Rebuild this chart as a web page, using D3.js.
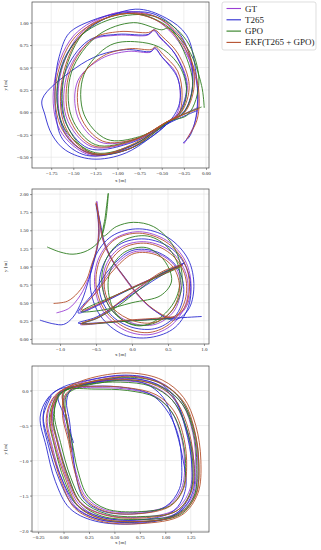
<!DOCTYPE html>
<html>
<head>
<meta charset="utf-8">
<script src="https://cdn.jsdelivr.net/npm/d3@7"></script>
<style>
  body { margin: 0; background: #fff; }
  svg { display: block; }
</style>
</head>
<body>
<div id="chart"></div>
<script>
// legend / series
const seriesNames = ["GT", "T265", "GPO", "EKF(T265 + GPO)"];
const seriesColors = ["#9b3fd4", "#2b2bd0", "#2e7d1f", "#b5502d"];

// ---- panel 1 : ticks
const p1XTicks = [-1.75, -1.5, -1.25, -1.0, -0.75, -0.5, -0.25, 0.0];
const p1YTicks = [-0.5, -0.25, 0.0, 0.25, 0.5, 0.75, 1.0];

// ---- panel 1 : trajectories [x, y]
const p1GT = [[-0.08,0.06],[-0.45,-0.12],
  [-0.85,-0.38],[-1.3,-0.48],[-1.65,-0.2],[-1.72,0.3],[-1.5,0.85],[-1.05,1.1],[-0.6,1.08],[-0.28,0.8],[-0.15,0.35],[-0.25,0.0],[-0.45,-0.12],
  [-0.85,-0.33],[-1.3,-0.38],[-1.58,-0.05],[-1.56,0.45],[-1.3,0.8],[-1.0,0.86],[-0.66,0.86],[-0.59,0.91],[-0.52,0.83],[-0.34,0.64],[-0.21,0.3],[-0.3,0.0],[-0.45,-0.12],
  [-0.8,-0.3],[-1.2,-0.33],[-1.45,-0.05],[-1.45,0.35],[-1.18,0.6],[-0.88,0.68],[-0.63,0.67],[-0.58,0.71],[-0.5,0.62],[-0.34,0.44],[-0.29,0.18],[-0.33,-0.02],[-0.45,-0.12],
  [-0.9,-0.42],[-1.35,-0.45],[-1.62,-0.15],[-1.65,0.4],[-1.4,0.9],[-0.95,1.12],[-0.55,1.02],[-0.25,0.7],[-0.1,0.3],[-0.12,-0.1],[-0.25,-0.35]];
const p1T265 = [[-0.1,0.02],[-0.44,-0.13],
  [-0.9,-0.4],[-1.35,-0.48],[-1.62,-0.3],[-1.7,0.0],[-1.7,0.38],[-1.66,0.62],[-1.55,0.88],[-1.3,1.02],[-0.99,1.1],[-0.6,1.1],[-0.3,0.88],[-0.15,0.45],[-0.22,0.05],[-0.44,-0.13],
  [-0.88,-0.35],[-1.33,-0.4],[-1.6,-0.08],[-1.6,0.42],[-1.33,0.8],[-1.0,0.87],[-0.65,0.87],[-0.59,0.92],[-0.52,0.84],[-0.35,0.65],[-0.22,0.3],[-0.3,0.0],[-0.44,-0.13],
  [-0.9,-0.45],[-1.29,-0.52],[-1.59,-0.42],[-1.74,-0.25],[-1.82,-0.03],[-1.85,0.15],[-1.48,0.49],[-1.2,0.64],[-0.9,0.7],[-0.62,0.68],[-0.58,0.72],[-0.5,0.62],[-0.32,0.38],[-0.3,0.1],[-0.44,-0.13],
  [-0.85,-0.4],[-1.25,-0.47],[-1.55,-0.3],[-1.68,0.1],[-1.6,0.6],[-1.3,0.95],[-0.8,1.15],[-0.45,1.05],[-0.22,0.86],[-0.12,0.49],[-0.1,0.04],[-0.18,-0.26],[-0.26,-0.34]];
const p1GPO = [[-0.05,0.06],[-0.42,-0.1],
  [-0.8,-0.35],[-1.25,-0.45],[-1.6,-0.18],[-1.68,0.3],[-1.45,0.82],[-1.0,1.06],[-0.55,1.06],[-0.22,0.8],[-0.08,0.35],[-0.2,-0.02],[-0.42,-0.1],
  [-0.8,-0.3],[-1.25,-0.36],[-1.52,-0.05],[-1.52,0.45],[-1.22,0.86],[-0.82,1.0],[-0.5,0.92],[-0.42,0.94],[-0.25,0.68],[-0.15,0.3],[-0.25,0.0],[-0.42,-0.1],
  [-0.75,-0.27],[-1.12,-0.3],[-1.38,-0.02],[-1.38,0.42],[-1.08,0.75],[-0.72,0.78],[-0.48,0.7],[-0.28,0.48],[-0.22,0.2],[-0.3,-0.02],[-0.42,-0.1],
  [-0.85,-0.4],[-1.3,-0.45],[-1.58,-0.12],[-1.6,0.42],[-1.35,0.92],[-0.9,1.1],[-0.5,1.0],[-0.2,0.7],[-0.05,0.3],[-0.02,0.05]];
const p1EKF = [[-0.08,0.04],[-0.45,-0.11],
  [-0.86,-0.37],[-1.28,-0.47],[-1.62,-0.2],[-1.7,0.3],[-1.48,0.84],[-1.03,1.08],[-0.58,1.07],[-0.26,0.8],[-0.13,0.35],[-0.24,0.0],[-0.45,-0.11],
  [-0.84,-0.32],[-1.28,-0.37],[-1.55,-0.05],[-1.54,0.45],[-1.28,0.82],[-0.98,0.9],[-0.65,0.89],[-0.58,0.92],[-0.5,0.85],[-0.32,0.66],[-0.19,0.3],[-0.28,0.0],[-0.45,-0.11],
  [-0.78,-0.29],[-1.17,-0.32],[-1.42,-0.04],[-1.42,0.37],[-1.16,0.63],[-0.86,0.71],[-0.62,0.7],[-0.57,0.73],[-0.49,0.65],[-0.32,0.46],[-0.27,0.19],[-0.31,-0.02],[-0.45,-0.11],
  [-0.88,-0.41],[-1.33,-0.44],[-1.6,-0.14],[-1.62,0.4],[-1.38,0.9],[-0.93,1.1],[-0.53,1.01],[-0.23,0.7],[-0.09,0.3],[-0.1,-0.08],[-0.22,-0.3]];

// ---- panel 2 : ticks
const p2XTicks = [-1.0, -0.5, 0.0, 0.5, 1.0];
const p2YTicks = [0.0, 0.25, 0.5, 0.75, 1.0, 1.25, 1.5, 1.75, 2.0];

// ---- panel 2 : trajectories
const p2GT = [[-1.05,0.36],[-0.88,0.42],[-0.72,0.6],[-0.6,0.85],[-0.52,1.12],[-0.47,1.4],[-0.47,1.65],[-0.49,1.9],[-0.45,1.62],[-0.41,1.38],[-0.3,1.12],[-0.12,0.86],[0.1,0.58],[0.3,0.4],[0.55,0.29],
  [0.74,0.42],[0.82,0.72],[0.74,1.08],[0.48,1.36],[0.1,1.48],[-0.25,1.38],[-0.46,1.12],[-0.52,0.75],[-0.4,0.38],[-0.1,0.12],[0.25,0.06],[0.56,0.2],[0.76,0.52],
  [0.75,0.9],[0.55,1.2],[0.2,1.34],[-0.15,1.27],[-0.36,1.02],[-0.4,0.68],[-0.28,0.4],[0.0,0.22],[0.32,0.2],[0.58,0.38],[0.68,0.7],
  [0.6,1.0],[0.35,1.18],[0.02,1.2],[-0.25,1.0],[-0.5,0.65],[-0.72,0.38],[0.0,0.71],[0.71,1.03],
  [0.45,0.93],[0.12,0.72],[-0.15,0.52],[-0.45,0.3],[-0.72,0.2],[-0.08,0.25],[0.6,0.29]];
const p2T265 = [[-1.28,0.26],[-1.1,0.21],[-0.95,0.2],[-0.82,0.3],[-0.7,0.52],[-0.6,0.82],[-0.52,1.1],[-0.46,1.4],[-0.47,1.65],[-0.5,1.86],[-0.44,1.6],[-0.39,1.36],[-0.28,1.1],[-0.1,0.85],[0.12,0.57],[0.33,0.38],[0.58,0.26],
  [0.78,0.4],[0.86,0.72],[0.78,1.1],[0.5,1.4],[0.1,1.52],[-0.28,1.42],[-0.52,1.12],[-0.58,0.72],[-0.44,0.32],[-0.12,0.06],[0.25,0.02],[0.6,0.16],[0.8,0.5],
  [0.78,0.92],[0.56,1.24],[0.18,1.38],[-0.18,1.3],[-0.4,1.02],[-0.45,0.65],[-0.3,0.34],[0.0,0.16],[0.35,0.15],[0.62,0.34],[0.72,0.68],
  [0.62,1.0],[0.35,1.2],[0.0,1.22],[-0.3,0.98],[-0.55,0.62],[-0.75,0.36],[0.0,0.7],[0.73,1.05],
  [0.45,0.9],[0.1,0.68],[-0.2,0.48],[-0.5,0.3],[-0.75,0.22],[0.1,0.26],[0.97,0.31]];
const p2GPO = [[-1.18,1.27],[-1.0,1.2],[-0.82,1.17],[-0.62,1.22],[-0.45,1.36],[-0.37,1.62],[-0.33,2.01],[-0.37,1.7],[-0.4,1.42],
  [-0.22,1.55],[0.02,1.61],[0.3,1.55],[0.55,1.32],[0.68,1.0],[0.68,0.65],[0.52,0.35],[0.25,0.2],[-0.05,0.22],[-0.3,0.42],[-0.42,0.78],[-0.35,1.12],
  [-0.12,1.36],[0.22,1.42],[0.5,1.26],[0.66,0.95],[0.62,0.58],[0.4,0.3],[0.1,0.18],[-0.18,0.3],[-0.32,0.6],[-0.3,0.95],
  [-0.1,1.2],[0.2,1.26],[0.45,1.08],[0.55,0.8],[0.4,0.6],[0.0,0.5],[-0.4,0.4],[-0.7,0.38],[0.0,0.7],[0.68,1.0],
  [0.4,0.9],[0.1,0.68],[-0.2,0.45],[-0.5,0.28],[-0.7,0.21],[0.0,0.25],[0.55,0.28]];
const p2EKF = [[-1.09,0.49],[-0.9,0.52],[-0.75,0.64],[-0.63,0.82],[-0.56,1.03],[-0.49,1.24],[-0.46,1.45],[-0.47,1.7],[-0.5,1.88],[-0.45,1.62],[-0.41,1.4],[-0.3,1.13],[-0.12,0.87],[0.1,0.59],[0.3,0.41],[0.54,0.3],
  [0.73,0.43],[0.8,0.73],[0.72,1.07],[0.47,1.34],[0.1,1.46],[-0.24,1.37],[-0.44,1.11],[-0.5,0.75],[-0.38,0.4],[-0.08,0.15],[0.25,0.09],[0.55,0.23],[0.74,0.54],
  [0.73,0.9],[0.53,1.18],[0.2,1.32],[-0.13,1.25],[-0.34,1.0],[-0.38,0.68],[-0.26,0.42],[0.02,0.25],[0.32,0.23],[0.56,0.4],[0.66,0.7],
  [0.58,0.98],[0.34,1.16],[0.03,1.18],[-0.23,0.98],[-0.48,0.66],[-0.7,0.4],[0.0,0.71],[0.7,1.02],
  [0.44,0.94],[0.12,0.73],[-0.15,0.53],[-0.45,0.31],[-0.71,0.21],[-0.06,0.26],[0.58,0.3]];

// ---- panel 3 : ticks
const p3XTicks = [-0.25, 0.0, 0.25, 0.5, 0.75, 1.0, 1.25];
const p3YTicks = [-2.0, -1.5, -1.0, -0.5, 0.0];

// ---- panel 3 : trajectories
const p3GT = [[0.08,-0.85],[0.04,-0.45],[0.0,-0.02],
  [0.25,0.1],[0.55,0.14],[0.85,0.08],[1.06,-0.12],[1.19,-0.48],[1.26,-1.0],[1.24,-1.42],[1.1,-1.7],[0.75,-1.81],[0.4,-1.77],[0.17,-1.6],[0.05,-1.25],[-0.05,-0.75],[-0.11,-0.35],[-0.06,-0.08],[0.05,0.04],
  [0.3,0.16],[0.65,0.21],[0.95,0.12],[1.15,-0.12],[1.27,-0.52],[1.32,-1.02],[1.29,-1.47],[1.14,-1.76],[0.75,-1.88],[0.35,-1.84],[0.12,-1.66],[-0.01,-1.3],[-0.11,-0.8],[-0.16,-0.4],[-0.1,-0.12],[0.02,0.02],
  [0.3,0.04],[0.62,0.02],[0.9,-0.08],[1.06,-0.3],[1.15,-0.62],[1.19,-1.02],[1.16,-1.4],[1.03,-1.64],[0.72,-1.74],[0.4,-1.7],[0.22,-1.52],[0.12,-1.15],[0.06,-0.72],[0.0,-0.35],[0.02,-0.08],[0.1,0.03],
  [0.35,0.13],[0.68,0.17],[0.98,0.05],[1.17,-0.2],[1.27,-0.6],[1.3,-1.05],[1.27,-1.5],[1.1,-1.76],[0.72,-1.85],[0.35,-1.8],[0.15,-1.62],[0.03,-1.25],[-0.08,-0.75],[-0.12,-0.38],[-0.05,-0.08],[0.05,0.05]];
const p3T265 = [[0.1,-0.75],[0.02,-0.4],[-0.05,-0.05],
  [0.2,0.08],[0.5,0.15],[0.8,0.1],[0.98,-0.1],[1.08,-0.45],[1.17,-0.95],[1.2,-1.4],[1.08,-1.72],[0.72,-1.85],[0.35,-1.8],[0.12,-1.62],[-0.02,-1.25],[-0.14,-0.75],[-0.2,-0.35],[-0.14,-0.1],[-0.02,0.04],
  [0.25,0.15],[0.6,0.22],[0.9,0.15],[1.08,-0.08],[1.2,-0.5],[1.28,-1.0],[1.27,-1.45],[1.12,-1.76],[0.72,-1.9],[0.3,-1.86],[0.06,-1.68],[-0.08,-1.3],[-0.17,-0.8],[-0.23,-0.38],[-0.16,-0.12],[-0.04,0.02],
  [0.25,0.06],[0.55,0.05],[0.85,-0.05],[1.0,-0.25],[1.12,-0.6],[1.16,-1.0],[1.14,-1.4],[1.0,-1.66],[0.7,-1.76],[0.38,-1.72],[0.2,-1.55],[0.12,-1.2],[0.09,-0.85],[0.06,-0.45],[0.03,-0.15],[0.08,0.02],
  [0.3,0.12],[0.62,0.18],[0.93,0.08],[1.1,-0.15],[1.2,-0.55],[1.26,-1.05],[1.24,-1.5],[1.08,-1.78],[0.7,-1.88],[0.32,-1.83],[0.1,-1.65],[-0.04,-1.28],[-0.15,-0.78],[-0.2,-0.38],[-0.12,-0.08]];
const p3GPO = [[0.07,-0.82],[0.03,-0.42],[0.01,-0.02],
  [0.25,0.09],[0.56,0.12],[0.86,0.06],[1.07,-0.14],[1.2,-0.5],[1.27,-1.02],[1.25,-1.44],[1.11,-1.72],[0.76,-1.8],[0.42,-1.76],[0.19,-1.58],[0.07,-1.24],[-0.03,-0.74],[-0.09,-0.34],[-0.05,-0.07],[0.06,0.03],
  [0.31,0.14],[0.66,0.19],[0.96,0.1],[1.16,-0.14],[1.28,-0.54],[1.33,-1.04],[1.3,-1.48],[1.15,-1.77],[0.76,-1.87],[0.37,-1.83],[0.14,-1.65],[0.01,-1.29],[-0.09,-0.79],[-0.14,-0.39],[-0.08,-0.11],[0.03,0.01],
  [0.31,0.02],[0.63,0.0],[0.91,-0.1],[1.07,-0.32],[1.16,-0.64],[1.2,-1.04],[1.17,-1.42],[1.04,-1.65],[0.73,-1.73],[0.42,-1.69],[0.24,-1.51],[0.14,-1.14],[0.08,-0.71],[0.02,-0.34],[0.03,-0.07],[0.11,0.02],
  [0.36,0.11],[0.69,0.15],[0.99,0.03],[1.18,-0.22],[1.28,-0.62],[1.31,-1.07],[1.28,-1.52],[1.11,-1.77],[0.73,-1.84],[0.37,-1.79],[0.17,-1.61],[0.05,-1.24],[-0.06,-0.74],[-0.1,-0.37],[-0.04,-0.07],[0.06,0.04]];
const p3EKF = [[0.08,-0.88],[0.04,-0.46],[0.0,0.0],
  [0.26,0.12],[0.56,0.16],[0.86,0.1],[1.08,-0.1],[1.21,-0.47],[1.28,-1.0],[1.26,-1.43],[1.12,-1.71],[0.77,-1.82],[0.41,-1.78],[0.17,-1.61],[0.04,-1.25],[-0.06,-0.75],[-0.12,-0.35],[-0.07,-0.07],[0.04,0.05],
  [0.3,0.19],[0.66,0.25],[0.97,0.15],[1.18,-0.1],[1.3,-0.5],[1.35,-1.0],[1.32,-1.47],[1.16,-1.78],[0.76,-1.9],[0.35,-1.86],[0.11,-1.68],[-0.02,-1.31],[-0.12,-0.81],[-0.17,-0.41],[-0.11,-0.12],[0.02,0.03],
  [0.3,0.06],[0.63,0.04],[0.91,-0.06],[1.08,-0.28],[1.17,-0.6],[1.21,-1.0],[1.18,-1.4],[1.05,-1.65],[0.73,-1.76],[0.4,-1.72],[0.21,-1.54],[0.11,-1.16],[0.05,-0.73],[-0.01,-0.36],[0.01,-0.08],[0.1,0.04],
  [0.35,0.15],[0.69,0.2],[1.0,0.07],[1.19,-0.18],[1.29,-0.58],[1.33,-1.05],[1.3,-1.5],[1.12,-1.78],[0.73,-1.87],[0.35,-1.82],[0.14,-1.64],[0.02,-1.26],[-0.09,-0.76],[-0.13,-0.38],[-0.06,-0.08]];

const FONT = "'Liberation Serif', 'DejaVu Serif', serif";
const W = 321, H = 550;

let svg = d3.select('#chart').append('svg')
    .attr("width", W)
    .attr("height", H);

function fmt(d, dec){
    return d3.format("." + dec + "f")(d).replace("-", "\u2212");
}

function drawPanel(cfg){
    let x = d3.scaleLinear().domain(cfg.xDomain).range([cfg.left, cfg.right]);
    let y = d3.scaleLinear().domain(cfg.yDomain).range([cfg.bottom, cfg.top]);
    let g = svg.append('g');

    //grid
    g.append('g').selectAll('line').data(cfg.xTicks).enter().append('line')
        .attr("x1", d => x(d)).attr("x2", d => x(d))
        .attr("y1", cfg.top).attr("y2", cfg.bottom)
        .attr("stroke", "#e3e3e3").attr("stroke-width", 0.6);
    g.append('g').selectAll('line').data(cfg.yTicks).enter().append('line')
        .attr("y1", d => y(d)).attr("y2", d => y(d))
        .attr("x1", cfg.left).attr("x2", cfg.right)
        .attr("stroke", "#e3e3e3").attr("stroke-width", 0.6);

    //trajectories, one path per series
    let line = d3.line()
        .x(d => x(d[0]))
        .y(d => y(d[1]))
        .curve(d3.curveCatmullRom.alpha(0.5));
    let clipId = "clip" + cfg.id;
    svg.append('clipPath').attr("id", clipId).append('rect')
        .attr("x", cfg.left).attr("y", cfg.top)
        .attr("width", cfg.right - cfg.left).attr("height", cfg.bottom - cfg.top);
    g.append('g').attr("clip-path", "url(#" + clipId + ")")
        .selectAll('path').data(cfg.series).enter().append('path')
        .attr("d", d => line(d))
        .attr("fill", "none")
        .attr("stroke", (d, i) => seriesColors[i])
        .attr("stroke-width", 0.9)
        .attr("stroke-linejoin", "round");

    //axes
    let xAxis = g.append('g')
        .attr("transform", "translate(0," + cfg.bottom + ")")
        .call(d3.axisBottom(x).tickValues(cfg.xTicks).tickFormat(d => fmt(d, cfg.xDec)).tickSize(2).tickPadding(1.5).tickSizeOuter(0));
    let yAxis = g.append('g')
        .attr("transform", "translate(" + cfg.left + ",0)")
        .call(d3.axisLeft(y).tickValues(cfg.yTicks).tickFormat(d => fmt(d, cfg.yDec)).tickSize(2).tickPadding(1.5).tickSizeOuter(0));
    [xAxis, yAxis].forEach(a => {
        a.select(".domain").remove();
        a.selectAll(".tick line").attr("stroke", "#333").attr("stroke-width", 0.5);
        a.selectAll(".tick text").attr("font-family", FONT).attr("font-size", 5).attr("fill", "#222");
    });

    //frame
    g.append('rect')
        .attr("x", cfg.left).attr("y", cfg.top)
        .attr("width", cfg.right - cfg.left).attr("height", cfg.bottom - cfg.top)
        .attr("fill", "none").attr("stroke", "#444").attr("stroke-width", 0.7);

    //labels
    g.append('text')
        .attr("x", (cfg.left + cfg.right) / 2).attr("y", cfg.bottom + cfg.xLabelGap)
        .attr("text-anchor", "middle")
        .attr("font-family", FONT).attr("font-size", 5).attr("fill", "#222")
        .text("x [m]");
    g.append('text')
        .attr("transform", "translate(7," + ((cfg.top + cfg.bottom) / 2) + ") rotate(-90)")
        .attr("text-anchor", "middle")
        .attr("font-family", FONT).attr("font-size", 5).attr("fill", "#222")
        .text("y [m]");
}

drawPanel({id: 1, left: 32, right: 209, top: 2, bottom: 168, xLabelGap: 13.5,
    xDomain: [-1.967, 0.034], yDomain: [-0.62, 1.23],
    xTicks: p1XTicks, yTicks: p1YTicks, xDec: 2, yDec: 2,
    series: [p1GT, p1T265, p1GPO, p1EKF]});
drawPanel({id: 2, left: 32, right: 209, top: 189, bottom: 344, xLabelGap: 11.5,
    xDomain: [-1.39, 1.07], yDomain: [-0.07, 2.07],
    xTicks: p2XTicks, yTicks: p2YTicks, xDec: 1, yDec: 2,
    series: [p2GT, p2T265, p2GPO, p2EKF]});
drawPanel({id: 3, left: 32, right: 209, top: 366, bottom: 532, xLabelGap: 12,
    xDomain: [-0.31, 1.43], yDomain: [-2.02, 0.35],
    xTicks: p3XTicks, yTicks: p3YTicks, xDec: 2, yDec: 1,
    series: [p3GT, p3T265, p3GPO, p3EKF]});

//legend
let legend = svg.append('g');
legend.append('rect')
    .attr("x", 222).attr("y", 2).attr("width", 94).attr("height", 48)
    .attr("rx", 2).attr("fill", "#fff").attr("stroke", "#d0d0d0").attr("stroke-width", 0.7);
let items = legend.selectAll('g.item').data(seriesNames).enter().append('g')
    .attr("transform", (d, i) => "translate(0," + (8.5 + i * 11.3) + ")");
items.append('line')
    .attr("x1", 226.5).attr("x2", 241).attr("y1", 0).attr("y2", 0)
    .attr("stroke", (d, i) => seriesColors[i]).attr("stroke-width", 1.1);
items.append('text')
    .attr("x", 245).attr("y", 3)
    .attr("font-family", FONT).attr("font-size", 9).attr("fill", "#222")
    .text(d => d);
</script>
</body>
</html>
